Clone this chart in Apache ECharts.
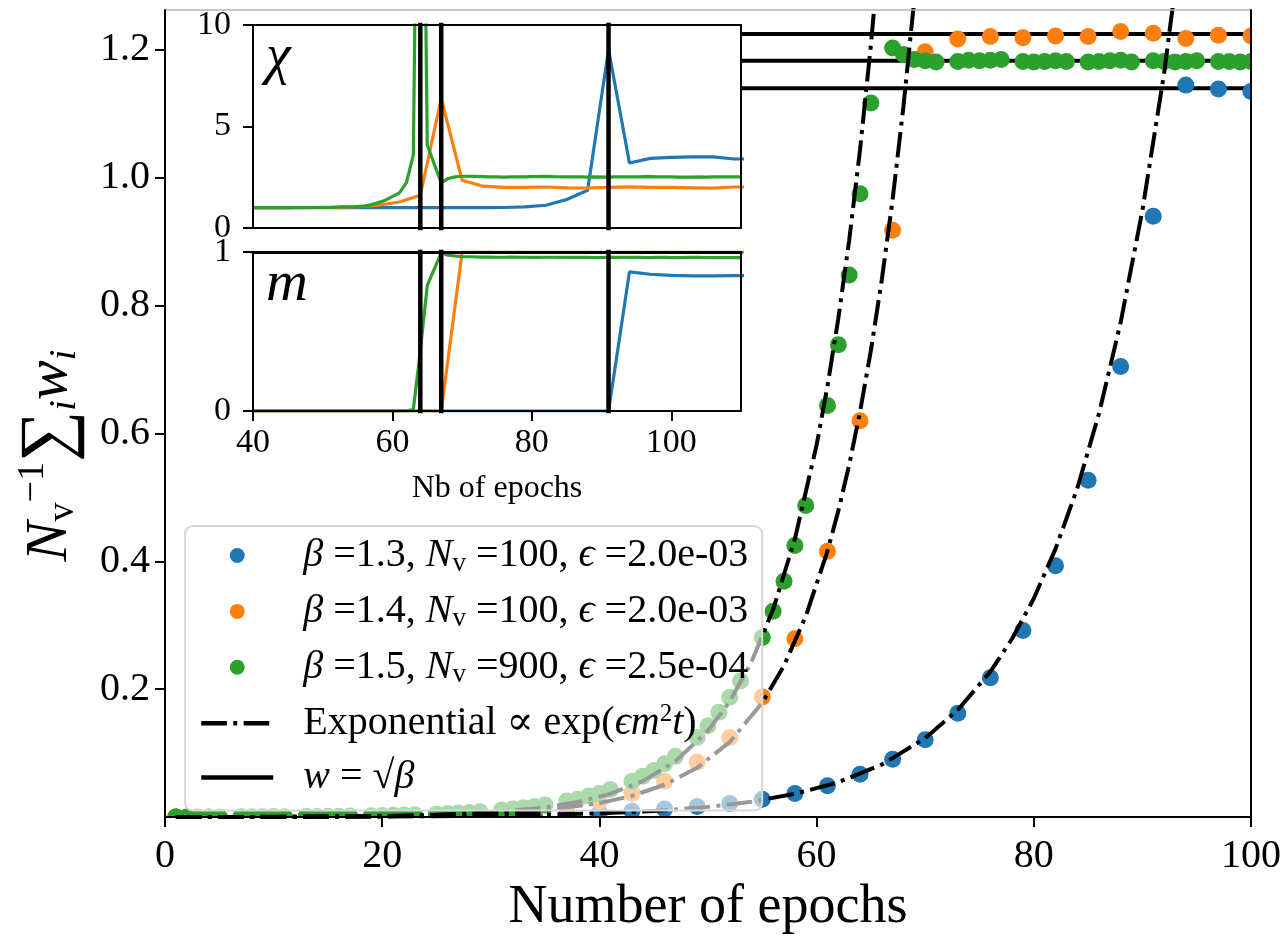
<!DOCTYPE html>
<html><head><meta charset="utf-8">
<script src="https://cdn.jsdelivr.net/npm/echarts@6/dist/echarts.min.js"></script>
<style>html,body{margin:0;padding:0;background:#fff}#c{width:1288px;height:940px}</style>
</head><body><div id="c"></div>
<script>
// ---------- main panel data ----------
const mainEpochs3 = [1,4,7,10,13,16,19,22,25,28,31,34,37,40,43,46,49,52,55,58,61,64,67,70,73,76,79,82,85,88,91,94,97,100];
const blueW = [0.0002,0.0002,0.0003,0.0004,0.0005,0.0007,0.0009,0.0012,0.0016,0.0022,0.0029,0.0039,0.0052,0.0069,0.0093,0.0125,0.0167,0.0214,0.028,0.037,0.049,0.067,0.0906,0.121,0.1625,0.218,0.292,0.393,0.527,0.705,0.94,1.145,1.139,1.135];
const orangeW = [0.0001,0.0002,0.0003,0.0005,0.0007,0.001,0.0015,0.0023,0.0034,0.0051,0.0076,0.0113,0.0169,0.0252,0.0375,0.056,0.086,0.1245,0.188,0.279,0.416,0.62,0.918,1.197,1.217,1.221,1.219,1.222,1.221,1.229,1.226,1.218,1.223,1.222];
const greenEpochs = [1,2,3,4,5,7,8,9,10,11,13,14,15,16,17,19,20,21,22,23,25,26,27,28,29,31,32,33,34,35,37,38,39,40,41,43,44,45,46,47,49,50,51,52,53,55,56,57,58,59,61,62,63,64,65,67,68,69,70,71,73,74,75,76,77,79,80,81,82,83,85,86,87,88,89,91,92,93,94,95,97,98,99,100];
const greenW = [0.0002,0.0002,0.0002,0.0003,0.0003, 0.0004,0.0005,0.0005,0.0006,0.0007, 0.0009,0.0011,0.0012,0.0014,0.0016, 0.0021,0.0024,0.0028,0.0032,0.0037, 0.0048,0.0055,0.0063,0.0073,0.0083, 0.011,0.0125,0.0145,0.0165,0.019, 0.025,0.028,0.033,0.037,0.043, 0.056,0.064,0.073,0.0835,0.095, 0.1245,0.143,0.164,0.1875,0.213, 0.281,0.322,0.369,0.425,0.4875, 0.644,0.739,0.848,0.975,1.117, 1.203,1.193,1.185,1.183,1.181, 1.182,1.184,1.183,1.184,1.185, 1.182,1.181,1.182,1.183,1.182, 1.181,1.182,1.183,1.184,1.181, 1.183,1.182,1.181,1.182,1.183, 1.182,1.182,1.181,1.182];

const blueFitT = [1,10,20,30,40,45,50,54,58,62,66,70,73,76,78,80,82,84,86,88,90,92,94];
const blueFitW = [0.0001,0.00027,0.00075,0.0021,0.0058,0.0096,0.016,0.0241,0.0363,0.0545,0.0821,0.1234,0.1675,0.2275,0.279,0.342,0.4196,0.514,0.631,0.774,0.949,1.1635,1.427];
const orangeFitT = [1,10,20,25,30,35,40,43,46,49,52,55,57,59,61,62,63,64,65,66,67,68,69,70];
const orangeFitW = [0.0001,0.0003,0.0013,0.0026,0.0053,0.0108,0.0218,0.0332,0.0506,0.0771,0.1175,0.179,0.237,0.314,0.416,0.479,0.551,0.634,0.730,0.840,0.966,1.112,1.280,1.473];
const greenFitT = [1,10,20,25,30,35,38,41,44,47,50,52,54,56,58,60,61,62,63,64,65,66];
const greenFitW = [0.0001,0.0004,0.0017,0.0035,0.0073,0.0151,0.0235,0.0363,0.0563,0.0873,0.135,0.181,0.2425,0.325,0.435,0.582,0.674,0.780,0.902,1.044,1.208,1.398];

const wLevels = [1.140, 1.183, 1.225];
const wLineSpan = [40, 100];
const xTicks = [0,20,40,60,80,100];
const yTicks = [0.2,0.4,0.6,0.8,1.0,1.2];

// ---------- inset data ----------
const insetTicks = [40,60,80,100];
const insetEpochs3 = [40,43,46,49,52,55,58,61,64,67,70,73,76,79,82,85,88,91,94,97,100,103,106,109,112];
const blueChi   = [1,1,1,1,1,1,1,1,1,1,1,1.0,1.01,1.04,1.12,1.4,1.86,8.8,3.2,3.43,3.48,3.5,3.5,3.4,3.4];
const orangeChi = [1.0,1.0,1.0,1.01,1.02,1.05,1.12,1.28,1.61,6.38,2.35,2.06,2.0,2.0,2.02,1.98,1.97,2.0,2.03,2.0,2.0,1.98,1.96,2.02,2.02];
const blueM     = [0,0,0,0,0,0,0,0,0,0,0,0,0,0,0,0,0,0,0.875,0.86,0.853,0.85,0.85,0.852,0.852];
const orangeM   = [0,0,0,0,0,0,0,0,0,0,1.0,1.0,1.0,1.0,1.0,1.0,1.0,1.0,1.0,1.0,1.0,1.0,1.0,1.0,1.0];
const greenInsetEpochs = [40,41,43,44,45,46,47,49,50,51,52,53,55,56,57,58,59,61,62,63,64,65,67,68,69,70,71,73,74,75,76,77,79,80,81,82,83,85,86,87,88,89,91,92,93,94,95,97,98,99,100,101,103,104,105,106,107,109,110];
const greenChi = [1.0,1.0,1.0,1.0,1.0,1.01,1.01,1.01,1.02,1.02,1.03,1.04,1.06,1.08,1.15,1.25,1.37,1.73,2.22,3.6,34,4.08,2.22,2.44,2.52,2.55,2.55,2.53,2.52,2.52,2.51,2.52,2.52,2.53,2.53,2.54,2.53,2.52,2.52,2.52,2.51,2.52,2.51,2.52,2.52,2.52,2.52,2.53,2.52,2.52,2.52,2.51,2.51,2.52,2.51,2.52,2.52,2.52,2.52];
const greenM = [0,0,0,0,0,0,0,0,0,0,0,0,0,0,0,0,0,0,0,0.01,0.38,0.79,0.995,0.98,0.975,0.97,0.97,0.968,0.968,0.967,0.967,0.968,0.967,0.966,0.966,0.967,0.967,0.966,0.966,0.967,0.966,0.965,0.966,0.966,0.967,0.966,0.966,0.965,0.966,0.966,0.965,0.965,0.966,0.966,0.965,0.965,0.965,0.965,0.965];
const vEpochs = [64, 67, 91];

// ---------- styling ----------
const FONT = '"Liberation Serif", "DejaVu Serif", serif';
const C = {blue:'#1f77b4', orange:'#ff7f0e', green:'#2ca02c'};
const zip = (a, b) => a.map((v, i) => [v, b[i]]);

const LF = 40;
const legendRich = {
  itp: {fontFamily: FONT, fontSize: LF, fontStyle: 'italic', lineHeight: 40, padding: [0,0,0,25], color:'#000'},
  rmp: {fontFamily: FONT, fontSize: LF, lineHeight: 40, padding: [0,0,0,25], color:'#000'},
  it:  {fontFamily: FONT, fontSize: LF, fontStyle: 'italic', lineHeight: 40, color:'#000'},
  rm:  {fontFamily: FONT, fontSize: LF, lineHeight: 40, color:'#000'},
  sub: {fontFamily: FONT, fontSize: 27, lineHeight: 20, padding: [16,0,0,0], color:'#000'},
  sup: {fontFamily: FONT, fontSize: 25, lineHeight: 20, padding: [0,0,18,0], color:'#000'}
};
const legendLabels = {
  b13: '{itp|β}{rm| =1.3, }{it|N}{sub|v}{rm| =100, }{it|ϵ}{rm| =2.0e-03}',
  b14: '{itp|β}{rm| =1.4, }{it|N}{sub|v}{rm| =100, }{it|ϵ}{rm| =2.0e-03}',
  b15: '{itp|β}{rm| =1.5, }{it|N}{sub|v}{rm| =900, }{it|ϵ}{rm| =2.5e-04}',
  Exponential: '{rmp|Exponential ∝ exp(}{it|ϵm}{sup|2}{it|t}{rm|)}',
  wline: '{itp|w}{rm| = √}{it|β}'
};

const series = [];
wLevels.forEach(v => series.push({
  type: 'line', name: 'wline', xAxisIndex: 0, yAxisIndex: 0, z: 1,
  data: [[wLineSpan[0], v], [wLineSpan[1], v]], symbol: 'none', showSymbol: false,
  lineStyle: {color: '#000', width: 4, type: 'solid'}, itemStyle: {color: '#000'}
}));
function dots(name, xs, ys, color) {
  return {
    type: 'custom', name, xAxisIndex: 0, yAxisIndex: 0, clip: true, z: 2,
    data: zip(xs, ys), encode: {x: 0, y: 1},
    itemStyle: {color},
    renderItem(params, api) {
      const p = api.coord([api.value(0), api.value(1)]);
      return {type: 'circle', shape: {cx: p[0], cy: p[1], r: 8.5}, style: {fill: color}};
    }
  };
}
series.push(dots('b13', mainEpochs3, blueW, C.blue));
series.push(dots('b14', mainEpochs3, orangeW, C.orange));
series.push(dots('b15', greenEpochs, greenW, C.green));
[[blueFitT, blueFitW], [orangeFitT, orangeFitW], [greenFitT, greenFitW]].forEach(([t, w]) => series.push({
  type: 'line', name: 'Exponential', xAxisIndex: 0, yAxisIndex: 0, z: 3, clip: true,
  data: zip(t, w), symbol: 'none', showSymbol: false,
  lineStyle: {color: '#000', width: 4, type: [25.6, 6.4, 4, 6.4], cap: 'butt'}, itemStyle: {color: '#000'}
}));
function insetLine(xs, ys, color, ax) {
  return {type: 'line', xAxisIndex: ax, yAxisIndex: ax, zlevel: 1, z: 5, clip: true,
    data: zip(xs, ys), symbol: 'none', showSymbol: false,
    lineStyle: {color, width: 3.2}, itemStyle: {color}};
}
series.push(insetLine(insetEpochs3, blueChi, C.blue, 1));
series.push(insetLine(insetEpochs3, orangeChi, C.orange, 1));
series.push(insetLine(greenInsetEpochs, greenChi, C.green, 1));
series.push(insetLine(insetEpochs3, blueM, C.blue, 2));
series.push(insetLine(insetEpochs3, orangeM, C.orange, 2));
series.push(insetLine(greenInsetEpochs, greenM, C.green, 2));
vEpochs.forEach(v => {
  series.push({type: 'line', xAxisIndex: 1, yAxisIndex: 1, zlevel: 1, z: 8, clip: true,
    data: [[v, -1], [v, 11]], symbol: 'none', lineStyle: {color: '#000', width: 4.5}});
  series.push({type: 'line', xAxisIndex: 2, yAxisIndex: 2, zlevel: 1, z: 8, clip: true,
    data: [[v, -0.1], [v, 1.1]], symbol: 'none', lineStyle: {color: '#000', width: 4.5}});
});

const tickLab = size => ({color: '#000', fontFamily: FONT, fontSize: size});
const spine = {show: true, onZero: false, lineStyle: {color: '#000', width: 2}};
const bare = {axisTick: {show: false}, axisLabel: {show: false}, splitLine: {show: false}};
const noDot = {color: 'rgba(0,0,0,0)', borderColor: 'rgba(0,0,0,0)', borderWidth: 0};

const option = {
  animation: false,
  backgroundColor: '#fff',
  grid: [
    {left: 165, top: 10, width: 1086, height: 808, containLabel: false},
    {left: 253, top: 25, width: 488, height: 203, show: true, backgroundColor: '#fff', borderWidth: 0, zlevel: 1, z: 1},
    {left: 253, top: 252, width: 488, height: 159, show: true, backgroundColor: '#fff', borderWidth: 0, zlevel: 1, z: 1}
  ],
  xAxis: [
    {type: 'value', gridIndex: 0, min: 0, max: 100, interval: 20, position: 'bottom', z: 10,
     axisLine: spine,
     axisTick: {show: true, inside: false, length: 10, lineStyle: {color: '#000', width: 2}},
     axisLabel: Object.assign(tickLab(40), {margin: 19}),
     splitLine: {show: false},
     name: 'Number of epochs', nameLocation: 'middle', nameGap: 24,
     nameTextStyle: {color: '#000', fontFamily: FONT, fontSize: 54}},
    {type: 'value', gridIndex: 1, min: 40, max: 110, interval: 20, zlevel: 1, z: 10, position: 'bottom',
     axisLine: spine, axisTick: {show: false}, axisLabel: {show: false}, splitLine: {show: false}},
    {type: 'value', gridIndex: 2, min: 40, max: 110, interval: 20, zlevel: 1, z: 10, position: 'bottom',
     axisLine: spine,
     axisTick: {show: true, length: 10, customValues: insetTicks, lineStyle: {color: '#000', width: 2}},
     axisLabel: Object.assign(tickLab(34), {margin: 15, customValues: insetTicks}),
     splitLine: {show: false},
     name: 'Nb of epochs', nameLocation: 'middle', nameGap: 62,
     nameTextStyle: {color: '#000', fontFamily: FONT, fontSize: 32}},
    Object.assign({type: 'value', gridIndex: 0, min: 0, max: 100, position: 'top', z: 9,
     axisLine: {show: true, onZero: false, lineStyle: {color: '#b4b4b4', width: 1.5}}}, bare),
    Object.assign({type: 'value', gridIndex: 1, min: 40, max: 110, position: 'top', zlevel: 1, z: 10, axisLine: spine}, bare),
    Object.assign({type: 'value', gridIndex: 2, min: 40, max: 110, position: 'top', zlevel: 1, z: 10,
     axisLine: {show: true, onZero: false, lineStyle: {color: '#000', width: 3.2}}}, bare)
  ],
  yAxis: [
    {type: 'value', gridIndex: 0, min: 0, max: 1.2625, interval: 0.2, z: 10,
     axisLine: spine,
     axisTick: {show: true, length: 10, customValues: yTicks, lineStyle: {color: '#000', width: 2}},
     axisLabel: Object.assign(tickLab(40), {margin: 15, customValues: yTicks, formatter: v => v === 0 ? '' : v.toFixed(1)}),
     splitLine: {show: false},
     name: '{yit|N}{ysub|v}{ysup|−1}{ysig|∑}{ysubi|i}{yit|w}{ysubi|i}',
     nameLocation: 'middle', nameRotate: 90, nameGap: 80,
     nameTextStyle: {color: '#000', fontFamily: FONT, fontSize: 60, padding: [0, 84, 0, 0], rich: {
       yit:   {fontFamily: FONT, fontSize: 60, fontStyle: 'italic', lineHeight: 70, color: '#000'},
       ysub:  {fontFamily: FONT, fontSize: 38, lineHeight: 20, padding: [26,0,0,0], color: '#000'},
       ysup:  {fontFamily: FONT, fontSize: 38, lineHeight: 20, padding: [0,0,34,0], color: '#000'},
       ysig:  {fontFamily: FONT, fontSize: 72, lineHeight: 70, color: '#000'},
       ysubi: {fontFamily: FONT, fontSize: 38, fontStyle: 'italic', lineHeight: 20, padding: [30,0,0,0], color: '#000'}
     }}},
    {type: 'value', gridIndex: 1, min: 0, max: 10, interval: 5, zlevel: 1, z: 10,
     axisLine: spine,
     axisTick: {show: true, length: 10, lineStyle: {color: '#000', width: 2}},
     axisLabel: Object.assign(tickLab(34), {margin: 22}), splitLine: {show: false}},
    {type: 'value', gridIndex: 2, min: 0, max: 1, interval: 1, zlevel: 1, z: 10,
     axisLine: spine,
     axisTick: {show: true, length: 10, lineStyle: {color: '#000', width: 2}},
     axisLabel: Object.assign(tickLab(34), {margin: 22}), splitLine: {show: false}},
    Object.assign({type: 'value', gridIndex: 0, min: 0, max: 1.2625, position: 'right', z: 10, axisLine: spine}, bare),
    Object.assign({type: 'value', gridIndex: 1, min: 0, max: 10, position: 'right', zlevel: 1, z: 10, axisLine: spine}, bare),
    Object.assign({type: 'value', gridIndex: 2, min: 0, max: 1, position: 'right', zlevel: 1, z: 10, axisLine: spine}, bare)
  ],
  legend: {
    orient: 'vertical', left: 185, top: 526, z: 20, selectedMode: false,
    padding: [8, 14, 13, 14], itemWidth: 72, itemHeight: 15, itemGap: 12.9,
    backgroundColor: 'rgba(255,255,255,0.6)', borderColor: '#d8d8d8', borderWidth: 2, borderRadius: 8,
    textStyle: {fontFamily: FONT, fontSize: LF, lineHeight: 40, color: '#000', rich: legendRich},
    formatter: n => legendLabels[n],
    data: [
      {name: 'b13', icon: 'circle', itemStyle: {color: C.blue}},
      {name: 'b14', icon: 'circle', itemStyle: {color: C.orange}},
      {name: 'b15', icon: 'circle', itemStyle: {color: C.green}},
      {name: 'Exponential', itemStyle: noDot, lineStyle: {width: 4.5, color: '#000'}},
      {name: 'wline', itemStyle: noDot, lineStyle: {width: 4.5, color: '#000'}}
    ]
  },
  graphic: [
    {type: 'text', left: 266, top: 30, zlevel: 1, z: 100,
     style: {text: 'χ', font: 'italic 56px "Liberation Serif", "DejaVu Serif", serif', fill: '#000'}},
    {type: 'text', left: 266, top: 256, zlevel: 1, z: 100,
     style: {text: 'm', font: 'italic 58px "Liberation Serif", "DejaVu Serif", serif', fill: '#000'}}
  ],
  series
};
const chart = echarts.init(document.getElementById('c'));
chart.setOption(option);
</script></body></html>
